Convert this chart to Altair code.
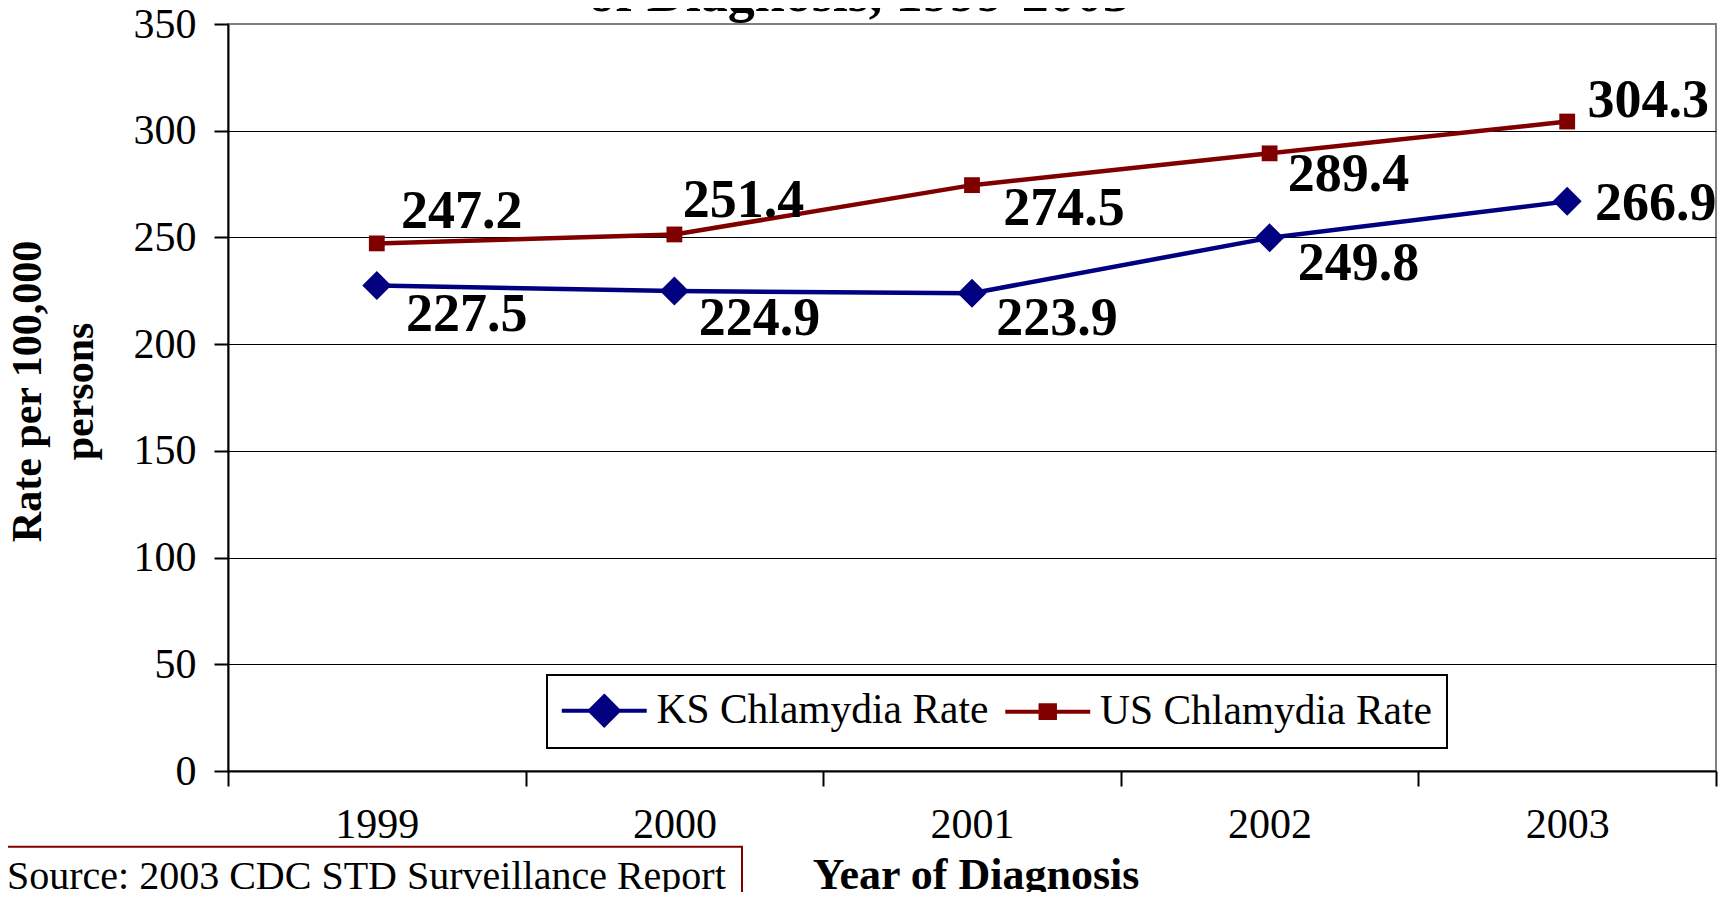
import altair as alt
import pandas as pd

# ---------------- data ----------------
years = [1999, 2000, 2001, 2002, 2003]
ks_rate = [227.5, 224.9, 223.9, 249.8, 266.9]
us_rate = [247.2, 251.4, 274.5, 289.4, 304.3]
series_names = ["KS Chlamydia Rate", "US Chlamydia Rate"]
y_ticks = [0, 50, 100, 150, 200, 250, 300, 350]

title_text = "of Diagnosis, 1999-2003"
x_title = "Year of Diagnosis"
y_title = ["Rate per 100,000", "persons"]
source_text = "Source: 2003 CDC STD Surveillance Report"

# ---------------- style ----------------
KS_COLOR = "#000080"
US_COLOR = "#800000"
FONT = "Liberation Serif"
W, H = 1488, 747

# label offsets (dx, dy) in pixels relative to each point
label_offsets = {
    series_names[0]: {"1999": (90, 30), "2000": (85, 28), "2001": (85, 25.5),
                      "2002": (89, 26), "2003": (88.5, 3)},
    series_names[1]: {"1999": (85, -31.5), "2000": (69, -33), "2001": (92, 23.5),
                      "2002": (79, 22), "2003": (81, -20.5)},
}

rows = []
for yr, k, u in zip(years, ks_rate, us_rate):
    rows.append({"year": str(yr), "series": series_names[0], "value": k})
    rows.append({"year": str(yr), "series": series_names[1], "value": u})
df = pd.DataFrame(rows)

x_enc = alt.X(
    "year:O",
    scale=alt.Scale(type="band", paddingInner=0, paddingOuter=0),
    axis=alt.Axis(
        title=None, labelAngle=0, labelFont=FONT, labelFontSize=42,
        labelColor="black", tickBand="extent", tickSize=15, tickWidth=2,
        tickColor="black", domainColor="black", domainWidth=2,
        labelPadding=18, grid=False,
    ),
)
y_enc = alt.Y(
    "value:Q",
    scale=alt.Scale(domain=[0, 350], nice=False, zero=True),
    axis=alt.Axis(
        title=None, values=y_ticks, labelFont=FONT, labelFontSize=42,
        labelColor="black", tickSize=14, tickWidth=2, tickColor="black",
        domainColor="black", domainWidth=2, labelPadding=18,
        grid=True, gridWidth=1, gridOpacity=1,
        gridColor=alt.condition("datum.value === 350", alt.value("#808080"), alt.value("black")),
    ),
)

layers = []

# title, axis titles, source (annotation text)
one = pd.DataFrame({"k": [0]})
layers.append(
    alt.Chart(one).mark_rect(fill="white", stroke=US_COLOR, strokeWidth=2).encode(
        x=alt.value(-240), x2=alt.value(514), y=alt.value(822.7), y2=alt.value(920)
    )
)
layers.append(
    alt.Chart(one).mark_text(font=FONT, fontSize=40, align="left", baseline="alphabetic", color="black").encode(
        x=alt.value(-221), y=alt.value(865), text=alt.value(source_text)
    )
)
layers.append(
    alt.Chart(one).mark_text(font=FONT, fontSize=54, fontWeight="bold", align="center",
                             baseline="alphabetic", color="black").encode(
        x=alt.value(631), y=alt.value(-13), text=alt.value(title_text)
    )
)
layers.append(
    alt.Chart(one).mark_text(font=FONT, fontSize=44, fontWeight="bold", align="center",
                             baseline="alphabetic", color="black").encode(
        x=alt.value(748), y=alt.value(865), text=alt.value(x_title)
    )
)
layers.append(
    alt.Chart(one).mark_text(font=FONT, fontSize=42, fontWeight="bold", align="center",
                             baseline="alphabetic", angle=270, lineHeight=52, color="black").encode(
        x=alt.value(-187), y=alt.value(367.5), text=alt.value(y_title)
    )
)

# series lines + markers
spec = [(series_names[0], KS_COLOR, "diamond", 841), (series_names[1], US_COLOR, "square", 250)]
for name, color, shape, size in spec:
    base = alt.Chart(df).transform_filter(alt.datum.series == name)
    layers.append(base.mark_line(color=color, strokeWidth=4.5).encode(x=x_enc, y=y_enc))
    layers.append(
        base.mark_point(shape=shape, filled=True, color=color, size=size, opacity=1).encode(x=x_enc, y=y_enc)
    )

# data labels
for name, offs in label_offsets.items():
    for yr, (dx, dy) in offs.items():
        layers.append(
            alt.Chart(df)
            .transform_filter((alt.datum.series == name) & (alt.datum.year == yr))
            .mark_text(font=FONT, fontSize=54, fontWeight="bold", align="center",
                       baseline="middle", dx=dx, dy=dy, color="black")
            .encode(x=x_enc, y=y_enc, text=alt.Text("value:Q", format=".1f"))
        )

# legend
path_ks = "M-2.36,0L2.36,0M0,-0.8L0.8,0L0,0.8L-0.8,0Z"
path_us = "M-2.36,0L2.36,0M-0.4,-0.36L0.4,-0.36L0.4,0.36L-0.4,0.36Z"
legend_def = alt.Legend(
    title=None, orient="none", legendX=319, legendY=651, direction="horizontal",
    padding=14.5, symbolOffset=22, labelOffset=31.5, columnPadding=8.5,
    labelFont=FONT, labelFontSize=41.5, labelColor="black", labelLimit=1000,
    symbolSize=1296, symbolStrokeWidth=4, symbolOpacity=1,
    strokeColor="black", fillColor="white",
)
layers.append(
    alt.Chart(df)
    .transform_filter("false")
    .mark_point(filled=True, opacity=1, strokeWidth=4)
    .encode(
        x=x_enc, y=y_enc,
        fill=alt.Fill("series:N", scale=alt.Scale(domain=series_names, range=[KS_COLOR, US_COLOR]), legend=legend_def),
        stroke=alt.Stroke("series:N", scale=alt.Scale(domain=series_names, range=[KS_COLOR, US_COLOR]), legend=legend_def),
        shape=alt.Shape("series:N", scale=alt.Scale(domain=series_names, range=[path_ks, path_us]), legend=legend_def),
    )
)

chart = (
    alt.layer(*layers)
    .properties(
        width=W, height=H,
        autosize=alt.AutoSizeParams(type="none"),
        padding={"left": 220, "top": 16, "right": 5, "bottom": 121},
        background="white",
    )
    .configure_view(stroke="#808080", strokeWidth=2)
    .configure_legend(strokeWidth=2)
)

chart.save("out.html", embed_options={"renderer": "svg", "actions": False})
